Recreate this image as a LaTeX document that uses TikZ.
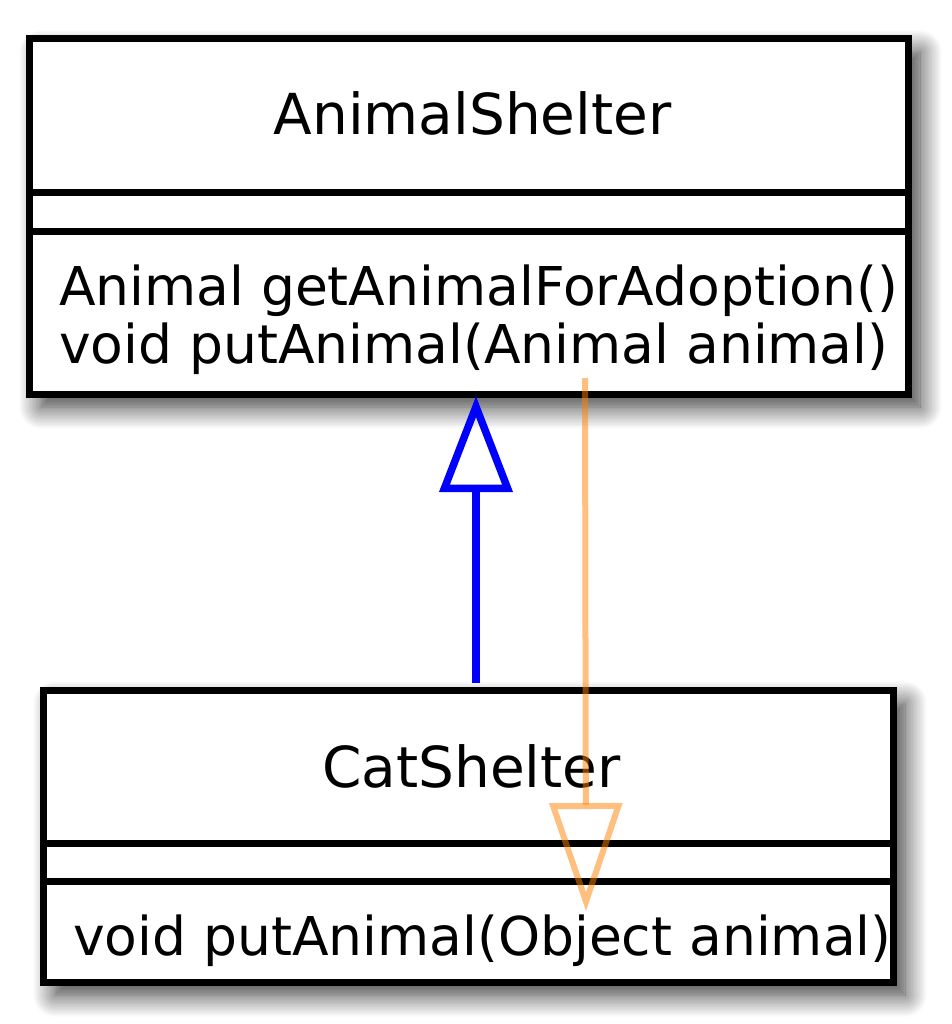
\documentclass[tikz,border=0pt]{standalone}
\usepackage{fontspec}
\setmainfont{DejaVu Sans}
\usetikzlibrary{arrows.meta,shadows.blur}

\begin{document}
\begin{tikzpicture}[x=1pt, y=-1pt,
  every node/.style={inner sep=0pt, outer sep=0pt},
  classbox/.style={draw=black, line width=7pt, fill=white, blur shadow={shadow xshift=12pt, shadow yshift=-13pt, shadow blur radius=22pt, shadow blur steps=16, shadow opacity=80}},
  rule/.style={draw=black, line width=7pt},
  title/.style={font=\fontsize{56.5}{60}\selectfont},
  txt/.style={font=\fontsize{53.5}{58}\selectfont},
  inherit/.style={draw=blue, line width=7.5pt, -{Triangle[open, length=96pt, width=72pt]}},
  depend/.style={draw=orange, draw opacity=0.5, line width=6pt, -{Triangle[open, length=108pt, width=72pt]}}]
\useasboundingbox (0,0) rectangle (951,1024);

\node[classbox, minimum width=879pt, minimum height=355pt] (shelter) at (468.5,216.5) {};
\node[title, anchor=base] (shelter-name) at (472.5,135) {AnimalShelter};
\draw[rule] (29,193) -- (908,193);
\draw[rule] (29,231.5) -- (908,231.5);
\node[txt, anchor=base west] (shelter-get) at (59,305) {Animal getAnimalForAdoption()};
\node[txt, anchor=base west] (shelter-put) at (59,363) {void putAnimal(Animal animal)};

\node[classbox, minimum width=850pt, minimum height=292pt] (cat) at (468,836) {};
\node[title, anchor=base] (cat-name) at (471.5,787) {CatShelter};
\draw[rule] (43,843) -- (893,843);
\draw[rule] (43,881.5) -- (893,881.5);
\node[txt, anchor=base west] (cat-put) at (73,955) {void putAnimal(Object animal)};

\coordinate (cat-top) at (476,683);
\coordinate (shelter-bottom) at (476,396);
\coordinate (put-from) at (585,378);
\coordinate (put-to) at (586,911);
\draw[inherit] (cat-top) -- (shelter-bottom);
\draw[depend] (put-from) -- (put-to);
\end{tikzpicture}
\end{document}
